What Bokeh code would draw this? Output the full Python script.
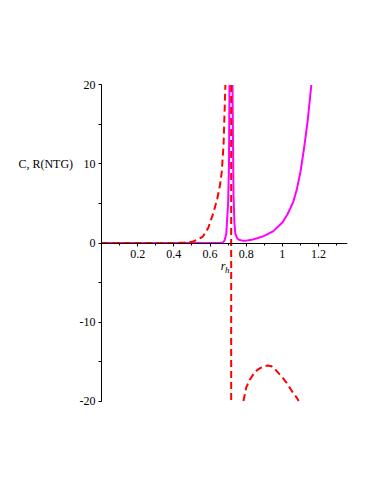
import math
from bokeh.plotting import figure
from bokeh.models import (Range1d, LinearAxis, FixedTicker, CustomJSTickFormatter,
                          Label, ColumnDataSource)
from bokeh.embed import file_html
from bokeh.resources import INLINE

# ---- data ----
# C (red dashed): left branch, jump at the pole (~0.717), lower branch
c_rh = [0, 0.1, 0.2, 0.3, 0.35, 0.4, 0.45, 0.5, 0.53, 0.56, 0.59, 0.62, 0.64,
        0.655, 0.665, 0.675, 0.685, 0.70, 0.716,
        0.718, 0.74, 0.76, 0.785, 0.80, 0.82, 0.84, 0.86, 0.88, 0.90, 0.92,
        0.94, 0.96, 0.98, 1.00, 1.02, 1.04, 1.06, 1.08, 1.095, 1.11]
c_vals = [0, 0, 0, 0, 0.0, 0.01, 0.03, 0.15, 0.4, 0.8, 1.9, 3.9, 5.6,
          7.3, 9.0, 12.5, 20, 45, 400,
          -400, -60, -30, -20, -18.3, -17.3, -16.6, -16.1, -15.8, -15.6, -15.5,
          -15.6, -16.0, -16.5, -17.0, -17.6, -18.3, -19.0, -19.6, -20.2, -21]

# R(NTG) (magenta solid): double-pole spike, then rising branch
r_rh = [0, 0.3, 0.5, 0.6, 0.65, 0.67, 0.68, 0.69, 0.70, 0.705, 0.71, 0.722,
        0.725, 0.73, 0.735, 0.74, 0.75, 0.76, 0.78, 0.80, 0.83, 0.86, 0.90,
        0.95, 1.0, 1.03, 1.06, 1.08, 1.10, 1.12, 1.14, 1.16, 1.17]
r_vals = [0, 0, 0, 0, 0.01, 0.05, 0.3, 1.2, 5, 10, 30, 40,
          18, 6, 2.5, 1.2, 0.6, 0.4, 0.3, 0.3, 0.4, 0.6, 0.9,
          1.5, 2.6, 3.7, 5.2, 6.8, 9.0, 12.0, 15.5, 20, 23]

x_tick_vals = [0.2, 0.4, 0.6, 0.8, 1.0, 1.2]
x_tick_labels = ["0.2", "0.4", "0.6", "0.8", "1", "1.2"]
x_minor = [0.1, 0.3, 0.5, 0.7, 0.9, 1.1, 1.3]
y_tick_vals = [-20, -10, 0, 10, 20]
y_tick_labels = ["-20", "-10", "0", "10", "20"]
y_minor = [-15, -5, 5, 15]

FONT = "Liberation Serif"
X_MIN, X_MAX = -0.5028, 1.36
Y_VIEW = (-20, 20)          # the plotted window of the curves
Y_PAD = 1.2                 # room so the end tick labels are not cut


def clip_view(xs, ys, lo, hi):
    """Clip a polyline to lo <= y <= hi (view window), breaking it with NaN."""
    ox, oy = [], []
    last = None
    for i in range(len(xs) - 1):
        x0, y0, x1, y1 = xs[i], ys[i], xs[i + 1], ys[i + 1]
        if y0 == y1:
            if not (lo <= y0 <= hi):
                continue
            t0, t1 = 0.0, 1.0
        else:
            ta = (lo - y0) / (y1 - y0)
            tb = (hi - y0) / (y1 - y0)
            t0 = max(0.0, min(ta, tb))
            t1 = min(1.0, max(ta, tb))
            if t0 > t1:
                continue
        p0 = (x0 + t0 * (x1 - x0), y0 + t0 * (y1 - y0))
        p1 = (x0 + t1 * (x1 - x0), y0 + t1 * (y1 - y0))
        if last is None or abs(last[0] - p0[0]) > 1e-12 or abs(last[1] - p0[1]) > 1e-12:
            if ox:
                ox.append(math.nan)
                oy.append(math.nan)
            ox.append(p0[0])
            oy.append(p0[1])
        ox.append(p1[0])
        oy.append(p1[1])
        last = p1
    return ox, oy


p = figure(frame_width=337, frame_height=335,
           min_border_left=10, min_border_right=19,
           min_border_top=75, min_border_bottom=66,
           x_range=Range1d(X_MIN, X_MAX),
           y_range=Range1d(Y_VIEW[0] - Y_PAD, Y_VIEW[1] + Y_PAD),
           x_axis_type=None, y_axis_type=None,
           output_backend="svg", toolbar_location=None,
           background_fill_color="white", border_fill_color="white")
p.outline_line_color = None
p.grid.visible = False


def label_formatter(vals, labels):
    return CustomJSTickFormatter(args=dict(vals=vals, labels=labels), code="""
    for (let i = 0; i < vals.length; i++) {
        if (Math.abs(vals[i] - tick) < 1e-9) { return labels[i]; }
    }
    return "";
    """)


def style_axis(ax):
    ax.axis_line_color = "black"
    ax.major_tick_line_color = "black"
    ax.minor_tick_line_color = "black"
    ax.major_tick_in = 0
    ax.minor_tick_in = 0
    ax.major_label_text_font = FONT
    ax.major_label_text_font_size = "12px"
    ax.major_label_text_color = "black"


# y axis crossing at x = 0
ya = LinearAxis(fixed_location=0, bounds=Y_VIEW)
ya.ticker = FixedTicker(ticks=y_tick_vals, minor_ticks=y_minor)
ya.formatter = label_formatter(y_tick_vals, y_tick_labels)
style_axis(ya)
ya.major_tick_out = 3
ya.minor_tick_out = 3
ya.major_label_standoff = 3
p.add_layout(ya, "left")

# x axis crossing at y = 0, starting at the y axis
xa = LinearAxis(fixed_location=0, bounds=(0, X_MAX))
xa.ticker = FixedTicker(ticks=x_tick_vals, minor_ticks=x_minor)
xa.formatter = label_formatter(x_tick_vals, x_tick_labels)
style_axis(xa)
xa.major_tick_out = 3
xa.minor_tick_out = 2
xa.major_label_standoff = 4
p.add_layout(xa, "below")

cx, cy = clip_view(c_rh, c_vals, *Y_VIEW)
rx, ry = clip_view(r_rh, r_vals, *Y_VIEW)
csrc = ColumnDataSource(dict(x=cx, y=cy))
rsrc = ColumnDataSource(dict(x=rx, y=ry))

p.line("x", "y", source=rsrc, line_color="#ff00ff", line_width=2)
p.line("x", "y", source=csrc, line_color="#ff0000", line_width=2, line_dash="7 4")

# axis titles
p.add_layout(Label(x=-0.459, y=10, text="C, R(NTG)", text_font=FONT,
                   text_font_size="12px", text_align="left", text_baseline="middle",
                   text_color="black"))
p.add_layout(Label(x=0.672, y=-2.9, text="r", text_font=FONT, text_font_style="italic",
                   text_font_size="12px", text_align="center", text_baseline="middle",
                   text_color="black"))
p.add_layout(Label(x=0.695, y=-3.4, text="h", text_font=FONT, text_font_style="italic",
                   text_font_size="9px", text_align="center", text_baseline="middle",
                   text_color="black"))

open("out.html", "w").write(file_html(p, INLINE))
